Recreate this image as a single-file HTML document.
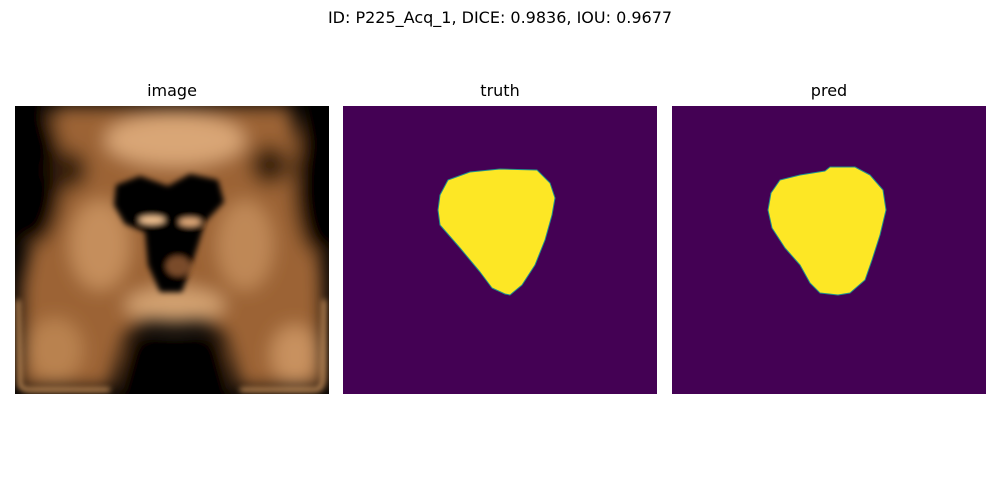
<!DOCTYPE html>
<html><head><meta charset="utf-8"><style>
body{margin:0;width:1000px;height:500px;background:#fff;font-family:"DejaVu Sans","Liberation Sans",sans-serif;position:relative;overflow:hidden}
.t{position:absolute;font-size:16px;color:#000;white-space:nowrap;transform:translateX(-50%)}
svg{position:absolute;left:0;top:0}
</style></head><body>
<div class="t" style="left:500px;top:8px">ID: P225_Acq_1, DICE: 0.9836, IOU: 0.9677</div>
<div class="t" style="left:172px;top:81px">image</div>
<div class="t" style="left:500px;top:81px">truth</div>
<div class="t" style="left:829px;top:81px">pred</div>
<svg width="1000" height="500">
<defs>
<filter id="b" x="-20%" y="-20%" width="140%" height="140%"><feGaussianBlur stdDeviation="9"/></filter>
<filter id="b2"><feGaussianBlur stdDeviation="3"/></filter>
<clipPath id="c"><rect x="15" y="106" width="314" height="288"/></clipPath>
</defs>
<g>
<rect x="15" y="106" width="314" height="288" fill="#000"/>
<g clip-path="url(#c)">
<g filter="url(#b)">
<path d="M55,106 L290,106 L310,200 L322,270 L324,388 L240,388 L225,335 L200,320 L150,320 L125,335 L110,388 L20,388 L22,285 L40,200 Z" fill="#9c6434"/>
<ellipse cx="175" cy="140" rx="70" ry="26" fill="#d9a676"/>
<ellipse cx="100" cy="245" rx="30" ry="45" fill="#c58e5c"/>
<ellipse cx="245" cy="245" rx="28" ry="45" fill="#bf8856"/>
<ellipse cx="175" cy="305" rx="50" ry="18" fill="#d2a070"/>
<ellipse cx="55" cy="350" rx="28" ry="32" fill="#b98250"/>
<ellipse cx="295" cy="355" rx="24" ry="30" fill="#c8915e"/>
<ellipse cx="35" cy="175" rx="28" ry="70" fill="#000"/>
<ellipse cx="318" cy="185" rx="24" ry="70" fill="#000"/>
<ellipse cx="270" cy="165" rx="20" ry="20" fill="#3a2010"/>
<ellipse cx="70" cy="170" rx="18" ry="20" fill="#3a2010"/>
<rect x="125" y="345" width="100" height="60" fill="#000"/>
</g>
<g filter="url(#b2)">
<path d="M116,185 L140,176 L168,186 L190,174 L218,180 L224,202 L205,222 L197,248 L188,275 L182,292 L160,292 L148,265 L145,232 L125,224 L114,205 Z" fill="#000"/>
<ellipse cx="152" cy="220" rx="13" ry="4" fill="#f0c090"/>
<ellipse cx="190" cy="222" rx="11" ry="4" fill="#e0a878"/>
<ellipse cx="178" cy="266" rx="12" ry="10" fill="#7a4c2c"/>
</g>
<path d="M18,300 L20,385 Q22,390 30,390 L110,390" stroke="#f0b070" stroke-width="3" fill="none" filter="url(#b2)"/>
<path d="M240,390 L315,390 Q322,390 323,380 L324,300" stroke="#f0b070" stroke-width="3" fill="none" filter="url(#b2)"/>
</g>
</g>
<g>
<rect x="343" y="106" width="314" height="288" fill="#440154"/>
<path d="M448,180 L470,172 L500,169 L537,170 L550,183 L555,198 L552,215 L545,240 L535,265 L522,285 L510,295 L505,294 L492,288 L480,272 L460,248 L440,225 L438,210 L440,195 Z" fill="#fde725" stroke="#21918c" stroke-width="1" stroke-linejoin="round"/>
</g>
<g>
<rect x="672" y="106" width="314" height="288" fill="#440154"/>
<path d="M780,180 L800,175 L825,171 L830,167 L855,167 L870,175 L883,190 L886,210 L880,235 L872,260 L865,280 L850,293 L838,295 L820,293 L810,283 L800,265 L785,248 L772,228 L768,210 L771,193 Z" fill="#fde725" stroke="#21918c" stroke-width="1" stroke-linejoin="round"/>
</g>
</svg>
</body></html>
